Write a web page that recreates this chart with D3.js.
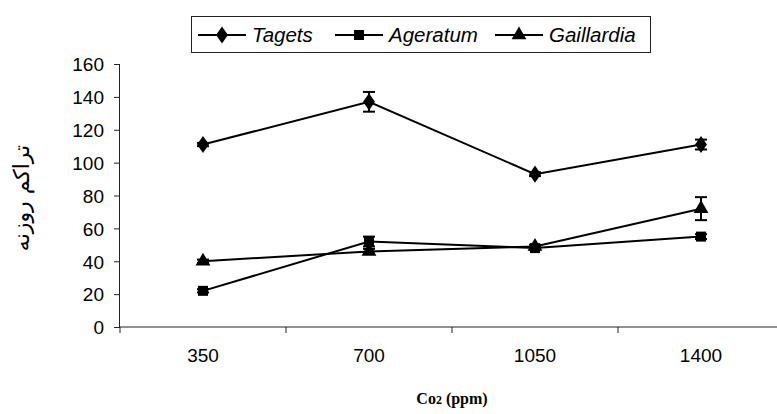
<!DOCTYPE html>
<meta charset="utf-8">
<script src="https://d3js.org/d3.v7.min.js"></script>
<style>
  body { margin: 0; background: #fff; }
  text { font-family: Arial, "Liberation Sans", sans-serif; }
</style>
<div id="chart"></div>
<script>

// data
var categories = ["350", "700", "1050", "1400"];
var tagets = [111, 137, 93, 111];
var tagetsErr = [1, 6, 1.2, 3];
var ageratum = [22, 52, 48, 55];
var ageratumErr = [1, 3, 1, 1.5];
var gaillardia = [40, 46, 49, 72];
var gaillardiaErr = [1, 1.5, 1, 7];
var yTicks = [0, 20, 40, 60, 80, 100, 120, 140, 160];

var series = [
  {name: "Tagets", values: tagets, err: tagetsErr, symbol: d3.symbolDiamond, size: 85},
  {name: "Ageratum", values: ageratum, err: ageratumErr, symbol: d3.symbolSquare, size: 100},
  {name: "Gaillardia", values: gaillardia, err: gaillardiaErr, symbol: d3.symbolTriangle, size: 95}
];

var W = 777, H = 414;
var margin = {top: 64, right: -7, bottom: 87, left: 120};
var width = W - margin.left - margin.right,
    height = H - margin.top - margin.bottom;

var svg = d3.select("#chart").append("svg")
    .attr("width", W).attr("height", H);
var g = svg.append("g")
    .attr("transform", "translate(" + margin.left + "," + margin.top + ")");

var x = d3.scaleBand().domain(categories).range([0, width]).padding(0);
var y = d3.scaleLinear().domain([0, 160]).range([height, 0]);

// y axis
var yAxis = g.append("g")
  .call(d3.axisLeft(y).tickValues(yTicks).tickSize(6).tickPadding(10));
yAxis.selectAll("text").style("font-size", "19px").attr("fill", "#000").attr("dy", "0.36em");
yAxis.select(".domain").attr("stroke", "#222").attr("d", "M-0.5,0V" + height);
yAxis.selectAll("line").attr("stroke", "#222");

// x axis: labels centred in bands, ticks on band edges
var xAxis = g.append("g").attr("transform", "translate(0," + height + ")");
xAxis.append("line").attr("x1", 0).attr("x2", width).attr("stroke", "#222");
xAxis.selectAll(".tk").data(categories).enter().append("line")
  .attr("x1", function(d) { return x(d); }).attr("x2", function(d) { return x(d); })
  .attr("y1", 0).attr("y2", 6).attr("stroke", "#222");
xAxis.selectAll(".lb").data(categories).enter().append("text")
  .attr("x", function(d) { return x(d) + x.bandwidth() / 2; })
  .attr("y", 35)
  .attr("text-anchor", "middle")
  .style("font-size", "19px")
  .text(function(d) { return d; });

var cx = function(i) { return x(categories[i]) + x.bandwidth() / 2; };

// lines, error bars, markers
series.forEach(function(s) {
  var line = d3.line()
    .x(function(d, i) { return cx(i); })
    .y(function(d) { return y(d); });
  g.append("path").datum(s.values)
    .attr("fill", "none").attr("stroke", "#000").attr("stroke-width", 2)
    .attr("d", line);

  s.values.forEach(function(v, i) {
    var e = s.err[i];
    var eb = g.append("g").attr("stroke", "#000").attr("stroke-width", 2);
    eb.append("line").attr("x1", cx(i)).attr("x2", cx(i)).attr("y1", y(v + e)).attr("y2", y(v - e));
    eb.append("line").attr("x1", cx(i) - 6).attr("x2", cx(i) + 6).attr("y1", y(v + e)).attr("y2", y(v + e));
    eb.append("line").attr("x1", cx(i) - 6).attr("x2", cx(i) + 6).attr("y1", y(v - e)).attr("y2", y(v - e));
  });

  g.selectAll(null).data(s.values).enter().append("path")
    .attr("d", d3.symbol().type(s.symbol).size(s.size))
    .attr("transform", function(d, i) {
      var sx = s.symbol === d3.symbolDiamond ? "scale(1.2,1)" : "";
      return "translate(" + cx(i) + "," + y(d) + ")" + sx;
    })
    .attr("fill", "#000");
});

// y label (Persian)
svg.append("text")
  .attr("transform", "translate(29,198) rotate(-90)")
  .attr("text-anchor", "middle")
  .style("font-family", "'DejaVu Sans', sans-serif")
  .style("font-size", "22px")
  .attr("direction", "rtl")
  .text("تراکم روزنه");

// x label
var xl = svg.append("text")
  .attr("x", 452).attr("y", 404)
  .attr("text-anchor", "middle")
  .style("font-family", "'Liberation Serif', 'Times New Roman', serif")
  .style("font-weight", "bold")
  .style("font-size", "16px");
xl.append("tspan").text("Co");
xl.append("tspan").style("font-size", "12px").text("2");
xl.append("tspan").text(" (ppm)");

// legend
var leg = svg.append("g");
leg.append("rect").attr("x", 191.5).attr("y", 16.5).attr("width", 459).attr("height", 36)
  .attr("fill", "#fff").attr("stroke", "#222").attr("stroke-width", 1);
var legX = [198, 335, 495];
series.forEach(function(s, i) {
  var lg = leg.append("g").attr("transform", "translate(" + legX[i] + ",35)");
  lg.append("line").attr("x1", 0).attr("x2", 48).attr("stroke", "#000").attr("stroke-width", 2);
  lg.append("path")
    .attr("d", d3.symbol().type(s.symbol).size(s.size))
    .attr("transform", "translate(24,0)" + (s.symbol === d3.symbolDiamond ? "scale(1.2,1)" : ""))
    .attr("fill", "#000");
  lg.append("text").attr("x", 54).attr("y", 7)
    .style("font-size", "20.5px").style("font-style", "italic")
    .text(s.name);
});

</script>
